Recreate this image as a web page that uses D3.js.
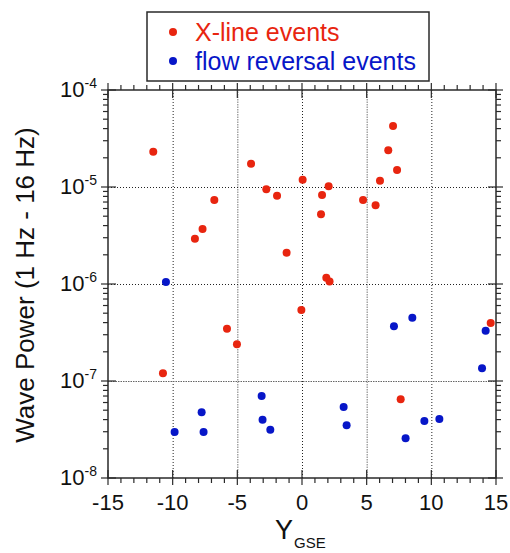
<!DOCTYPE html>
<html>
<head>
<meta charset="utf-8">
<script src="https://cdn.jsdelivr.net/npm/d3@7"></script>
<style>
  body { margin: 0; background: #fff; }
  svg { display: block; font-family: Arial, "Liberation Sans", sans-serif; }
</style>
</head>
<body>
<svg id="drawing_region"></svg>
<script>
// X-line events
const xlineY = [-11.5, -3.94, -2.76, -1.93, -6.78, -7.69, -8.28, -1.19,
                7.04, 6.67, 7.35, 6.03, 0.05, 2.06, 1.55, 1.47, 4.72, 5.69, 1.88, 2.13,
                -5.80, -5.03, -10.75, -0.05, 14.59, 7.63];
const xlinePower = [2.31e-5, 1.74e-5, 9.47e-6, 8.13e-6, 7.34e-6, 3.69e-6, 2.93e-6, 2.10e-6,
                    4.26e-5, 2.39e-5, 1.50e-5, 1.16e-5, 1.19e-5, 1.02e-5, 8.27e-6, 5.23e-6, 7.35e-6, 6.47e-6, 1.16e-6, 1.06e-6,
                    3.46e-7, 2.39e-7, 1.20e-7, 5.40e-7, 3.96e-7, 6.47e-8];

// flow reversal events
const flowY = [-10.52, -3.12, -7.76, -3.05, -9.85, -7.61, -2.45,
               8.53, 7.11, 14.2, 13.92, 3.22, 3.45, 10.62, 9.46, 8.01];
const flowPower = [1.05e-6, 7.0e-8, 4.75e-8, 3.99e-8, 2.98e-8, 2.98e-8, 3.15e-8,
                   4.50e-7, 3.66e-7, 3.30e-7, 1.35e-7, 5.40e-8, 3.49e-8, 4.06e-8, 3.87e-8, 2.57e-8];

const xTickValues = [-15, -10, -5, 0, 5, 10, 15];
const yTickExps = [-4, -5, -6, -7, -8];
const seriesNames = ['X-line events', 'flow reversal events'];

const config = {
    width: 510,
    height: 553,
    margin: {top: 90, right: 14, bottom: 75, left: 108},
    red: '#e8250f',
    blue: '#0716c8',
    frame: '#2a2a2a'
};

const svg = d3.select('#drawing_region')
    .attr('width', config.width)
    .attr('height', config.height);

const inner_width = config.width - config.margin.left - config.margin.right;
const inner_height = config.height - config.margin.top - config.margin.bottom;

const chart = svg.append('g')
    .attr('transform', `translate(${config.margin.left}, ${config.margin.top})`);

const xscale = d3.scaleLinear()
    .domain([-15, 15])
    .range([0, inner_width]);

const yscale = d3.scaleLog()
    .domain([1e-8, 1e-4])
    .range([inner_height, 0]);

const yMajor = yTickExps.map(e => Math.pow(10, e));
const yMinor = [];
yTickExps.slice(1).forEach(e => {
    for (let k = 2; k <= 9; k++) yMinor.push(k * Math.pow(10, e));
});
const xMinor = d3.range(-15, 16, 1).filter(v => v % 5 !== 0);

// gridlines
const xgrid = chart.append('g')
    .attr('transform', `translate(0, ${inner_height})`)
    .call(d3.axisBottom(xscale).tickValues(xTickValues.slice(1, -1))
        .tickSize(-inner_height).tickFormat(''));
const ygrid = chart.append('g')
    .call(d3.axisLeft(yscale).tickValues(yMajor.slice(1, -1))
        .tickSize(-inner_width).tickFormat(''));
[xgrid, ygrid].forEach(g => {
    g.select('.domain').remove();
    g.selectAll('line')
        .attr('stroke', '#222')
        .attr('stroke-width', 1)
        .attr('stroke-dasharray', '1,2');
});
xgrid.selectAll('line').filter(d => Math.abs(d) === 5)
    .attr('stroke', '#777').attr('stroke-dasharray', '1.5,1');
ygrid.selectAll('line').filter(d => d === 1e-7)
    .attr('stroke', '#666').attr('stroke-dasharray', '1.5,1');

// frame
chart.append('rect')
    .attr('x', 0).attr('y', 0)
    .attr('width', inner_width).attr('height', inner_height)
    .attr('fill', 'none')
    .attr('stroke', config.frame)
    .attr('stroke-width', 1.5);

// ticks: major cross the axis, minor point outward
const majOut = 7, majIn = 8, minOut = 5;
function drawXTicks(vals, out, inn, cls) {
    const g = chart.append('g').attr('class', cls);
    g.selectAll('line.b').data(vals).join('line').attr('class', 'b')
        .attr('x1', d => xscale(d)).attr('x2', d => xscale(d))
        .attr('y1', inner_height - inn).attr('y2', inner_height + out);
    g.selectAll('line.t').data(vals).join('line').attr('class', 't')
        .attr('x1', d => xscale(d)).attr('x2', d => xscale(d))
        .attr('y1', -out).attr('y2', inn);
    g.selectAll('line').attr('stroke', config.frame).attr('stroke-width', 1.2);
}
function drawYTicks(vals, out, inn, cls) {
    const g = chart.append('g').attr('class', cls);
    g.selectAll('line.l').data(vals).join('line').attr('class', 'l')
        .attr('y1', d => yscale(d)).attr('y2', d => yscale(d))
        .attr('x1', -out).attr('x2', inn);
    g.selectAll('line.r').data(vals).join('line').attr('class', 'r')
        .attr('y1', d => yscale(d)).attr('y2', d => yscale(d))
        .attr('x1', inner_width - inn).attr('x2', inner_width + out);
    g.selectAll('line').attr('stroke', config.frame).attr('stroke-width', 1.2);
}
drawXTicks(xTickValues, majOut, majIn, 'xmajor');
drawXTicks(xMinor, minOut, 0, 'xminor');
drawYTicks(yMajor, majOut, majIn, 'ymajor');
drawYTicks(yMinor, minOut, 0, 'yminor');

// x tick labels
chart.selectAll('text.xlab').data(xTickValues).join('text')
    .attr('class', 'xlab')
    .attr('x', d => xscale(d))
    .attr('y', inner_height + 32)
    .attr('text-anchor', 'middle')
    .style('font-size', '22px')
    .attr('fill', '#111')
    .text(d => d);

// y tick labels 10^n
const ylab = chart.selectAll('text.ylab').data(yTickExps).join('text')
    .attr('class', 'ylab')
    .attr('x', -11)
    .attr('y', d => yscale(Math.pow(10, d)) + 7)
    .attr('text-anchor', 'end')
    .attr('fill', '#111')
    .style('font-size', '22px');
ylab.append('tspan').text('10');
ylab.append('tspan')
    .attr('dy', -9)
    .style('font-size', '14px')
    .text(d => '-' + Math.abs(d));

// points
chart.append('g').selectAll('circle').data(d3.zip(flowY, flowPower)).join('circle')
    .attr('cx', d => xscale(d[0]))
    .attr('cy', d => yscale(d[1]))
    .attr('r', 4)
    .attr('fill', config.blue);
chart.append('g').selectAll('circle').data(d3.zip(xlineY, xlinePower)).join('circle')
    .attr('cx', d => xscale(d[0]))
    .attr('cy', d => yscale(d[1]))
    .attr('r', 4)
    .attr('fill', config.red);

// axis titles
const xt = svg.append('text')
    .attr('x', 275)
    .attr('y', 539)
    .attr('fill', '#111')
    .style('font-size', '27px');
xt.append('tspan').text('Y');
xt.append('tspan').attr('dy', 9).attr('dx', 1).style('font-size', '15px').text('GSE');

svg.append('text')
    .attr('transform', 'rotate(-90)')
    .attr('x', -285)
    .attr('y', 34)
    .attr('text-anchor', 'middle')
    .attr('fill', '#111')
    .style('font-size', '26px')
    .text('Wave Power (1 Hz - 16 Hz)');

// legend
const legend = svg.append('g');
legend.append('rect')
    .attr('x', 147).attr('y', 12)
    .attr('width', 282).attr('height', 69)
    .attr('fill', '#fff')
    .attr('stroke', config.frame)
    .attr('stroke-width', 1.5);
const legendColors = [config.red, config.blue];
const rows = legend.selectAll('g.row').data(seriesNames).join('g')
    .attr('class', 'row')
    .attr('transform', (d, i) => `translate(0, ${32 + i * 29})`);
rows.append('circle')
    .attr('cx', 173).attr('cy', 0).attr('r', 4)
    .attr('fill', (d, i) => legendColors[i]);
rows.append('text')
    .attr('x', 195).attr('y', 9)
    .style('font-size', '25px')
    .attr('fill', (d, i) => legendColors[i])
    .text(d => d);
</script>
</body>
</html>
